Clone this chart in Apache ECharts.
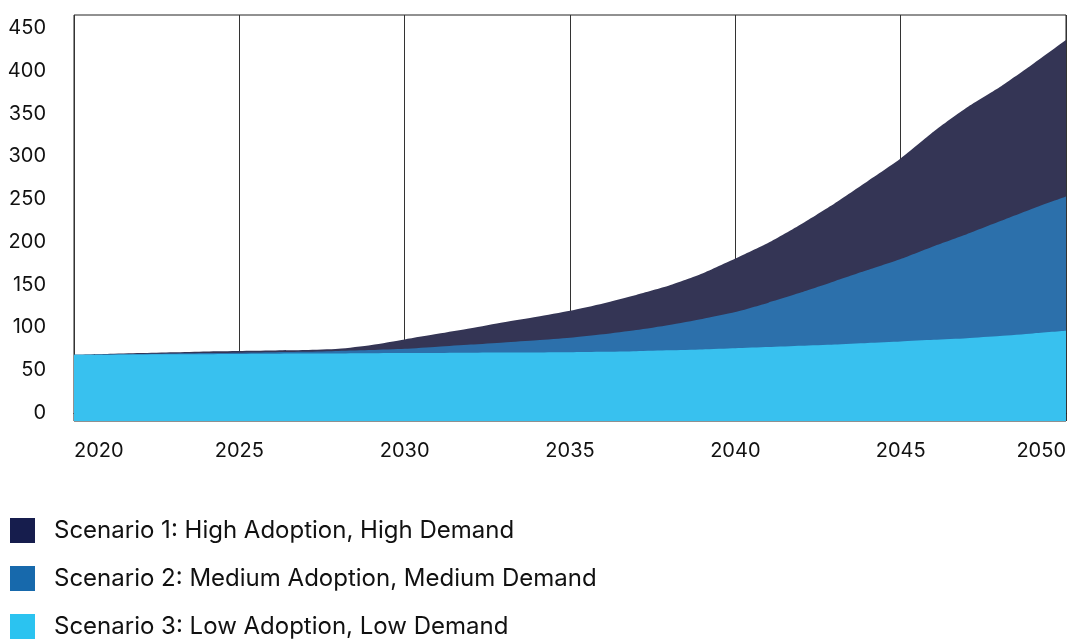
<!DOCTYPE html>
<html>
<head>
<meta charset="utf-8">
<script src="https://cdn.jsdelivr.net/npm/echarts@6/dist/echarts.min.js"></script>
<style>
html,body{margin:0;padding:0;background:#fff;}
#chart{width:1074px;height:639px;}
</style>
</head>
<body>
<div id="chart"></div>
<script>
const years = [2020,2021,2022,2023,2024,2025,2026,2027,2028,2029,2030,2031,2032,2033,2034,2035,2036,2037,2038,2039,2040,2041,2042,2043,2044,2045,2046,2047,2048,2049,2050];
const scenario1 = [68,69,70,71,72,72.5,73,73.5,75,79.5,86,92.5,99,106,112.5,119.5,128,138,149,163,180.5,199,221,245,271,297.5,329,357,381,408,436];
const scenario2 = [68,68.5,69,69.5,70,70.5,71,71.5,72.5,73.5,75,77.5,80,82.5,85,88,92,97,103,110,118,129,141,154,167,180,195,209,224,239,253];
const scenario3 = [68,68.2,68.4,68.6,68.8,69,69.2,69.4,69.6,69.8,70,70.2,70.4,70.6,70.8,71,71.5,72.2,73.2,74.3,75.6,77,78.5,80,81.8,83.5,85.5,87.5,90,93,96];
const seriesNames = ['Scenario 1: High Adoption, High Demand','Scenario 2: Medium Adoption, Medium Demand','Scenario 3: Low Adoption, Low Demand'];
const yTicks = [0,50,100,150,200,250,300,350,400,450];

const areaColors = ['#343555','#2C70AB','#38C1EF'];
const legendColors = ['#161D4D','#1769AC','#2BC3F0'];
const font = 'Inter, "Noto Sans", sans-serif';

function pairs(vals){ return years.map((y,i)=>[y, vals[i]]); }
const allVals = [scenario1, scenario2, scenario3];

const chart = echarts.init(document.getElementById('chart'), null, {renderer:'canvas'});
// plot box 15..421 px; value 0 at 413 px, 450 at 28 px
const pxPerUnit = 385 / 450;
const yMinA = -(421 - 413) / pxPerUnit;
const yMaxA = 450 + (28 - 15) / pxPerUnit;

chart.setOption({
  animation: false,
  backgroundColor: '#fff',
  grid: [
    {left: 74, right: 8, top: 15, height: 406, show: true, borderColor: '#222', borderWidth: 1, backgroundColor: 'transparent'},
    {left: 74, right: 8, top: 28, height: 385, show: false}
  ],
  xAxis: [
    {type: 'value', gridIndex: 0, min: years[0], max: years[years.length-1], interval: 5,
     axisLine: {show: true, lineStyle: {color: '#111', width: 1}},
     axisTick: {show: false},
     splitLine: {show: true, lineStyle: {color: '#333', width: 1}},
     axisLabel: {formatter: v => String(v), fontSize: 20, color: '#111', fontFamily: font, margin: 20,
                 alignMinLabel: 'left', alignMaxLabel: 'right'}},
    {type: 'value', gridIndex: 1, min: years[0], max: years[years.length-1], show: false}
  ],
  yAxis: [
    {type: 'value', gridIndex: 0, min: yMinA, max: yMaxA, show: false, splitLine: {show: false}},
    {type: 'value', gridIndex: 1, min: yTicks[0], max: yTicks[yTicks.length-1], interval: 50,
     axisLine: {show: false}, axisTick: {show: false}, splitLine: {show: false},
     axisLabel: {fontSize: 20, color: '#111', fontFamily: font, margin: 28}}
  ],
  legend: {
    orient: 'vertical', left: 10, top: 518, height: 140, padding: 0, itemWidth: 25, itemHeight: 25, itemGap: 23,
    icon: 'rect', selectedMode: false,
    textStyle: {fontSize: 24, color: '#111', fontFamily: font, padding: [0,0,0,14], lineHeight: 25},
    data: seriesNames.map((n,i)=>({name: n, itemStyle: {color: legendColors[i]}}))
  },
  series: seriesNames.map((n,i)=>({
    name: n, type: 'line', xAxisIndex: 0, yAxisIndex: 0,
    data: pairs(allVals[i]), smooth: 0.2, showSymbol: false, symbol: 'none',
    lineStyle: {width: 0}, itemStyle: {color: legendColors[i]},
    areaStyle: {color: areaColors[i], opacity: 1, origin: 'start'},
    z: 2 + i
  }))
});
</script>
</body>
</html>
